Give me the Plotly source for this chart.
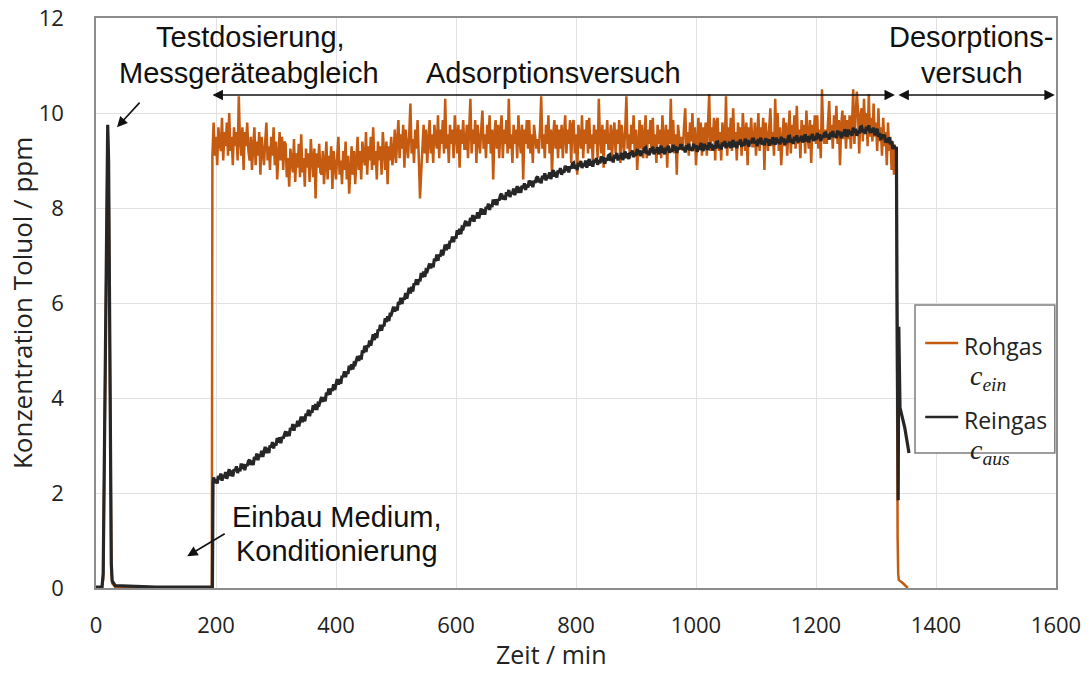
import plotly.graph_objects as go

# ---------------------------------------------------------------
# Rohgas c_ein (inlet concentration, ppm) over time (min)
# ---------------------------------------------------------------
# test dosing peak and conditioning phase
rohgas_start_t = [0, 10, 12, 14, 16, 18, 19.5, 21, 22.5, 24, 25.5, 27, 32, 100, 193, 194]
rohgas_start_c = [0, 0, 0.2, 2.8, 6.3, 9.0, 9.6, 8.8, 5.8, 2.3, 0.4, 0.1, 0.02, 0, 0, 9.1]

# adsorption run, logged every 2 min from 196 min (one row = 1 h)
rohgas_t0, rohgas_dt = 196, 2
rohgas_c = [
    9.8, 9.1, 9.5, 8.9, 9.7, 9.4, 9.2, 9.9, 9.0, 9.6, 9.3, 9.8, 9.1, 10.0, 9.2, 9.5, 8.9, 9.7, 9.3, 9.6, 9.0, 10.35, 9.4, 9.1, 9.7, 8.8, 9.6, 9.3, 9.8, 9.2,
    9.0, 9.5, 8.8, 9.3, 9.7, 8.9, 9.4, 9.1, 9.6, 8.7, 9.5, 9.2, 8.9, 9.4, 9.8, 9.0, 9.3, 8.8, 9.5, 9.1, 9.7, 8.9, 9.4, 8.6, 9.3, 9.6, 9.0, 9.5, 8.8, 9.4,
    9.35, 8.65, 9.05, 8.45, 9.25, 8.95, 8.75, 9.45, 8.55, 9.15, 8.85, 9.35, 8.65, 9.55, 8.75, 9.05, 8.45, 9.25, 8.85, 9.15, 8.55, 9.45, 8.95, 8.65, 9.25, 8.2, 9.15, 8.85, 9.35, 8.75,
    8.7, 9.2, 8.5, 9.0, 9.4, 8.6, 9.1, 8.8, 9.3, 8.4, 9.2, 8.9, 8.6, 9.1, 9.5, 8.7, 9.0, 8.5, 9.2, 8.8, 9.4, 8.6, 9.1, 8.3, 9.0, 9.3, 8.7, 9.2, 8.5, 9.1,
    9.5, 8.8, 9.2, 8.6, 9.4, 9.1, 8.9, 9.6, 8.7, 9.3, 9.0, 9.5, 8.8, 9.7, 8.9, 9.2, 8.6, 9.4, 9.0, 9.3, 8.7, 9.6, 9.1, 8.8, 9.4, 8.5, 9.3, 9.0, 9.5, 8.9,
    9.15, 9.65, 8.95, 9.45, 9.85, 9.05, 9.55, 9.25, 9.75, 8.85, 9.65, 9.35, 9.05, 9.55, 10.2, 9.15, 9.45, 8.95, 9.65, 9.25, 9.85, 9.05, 8.2, 8.75, 9.45, 9.75, 9.15, 9.65, 8.95, 9.55,
    9.85, 9.15, 9.55, 8.95, 9.75, 9.45, 9.25, 9.95, 9.05, 9.65, 9.35, 9.85, 9.15, 10.3, 9.25, 9.55, 8.95, 9.75, 9.35, 9.65, 9.05, 9.95, 9.45, 9.15, 9.75, 8.85, 9.65, 9.35, 9.85, 9.25,
    9.25, 9.75, 9.05, 9.55, 10.3, 9.15, 9.65, 9.35, 9.85, 8.95, 9.75, 9.45, 9.15, 9.65, 10.05, 9.25, 9.55, 9.05, 9.75, 9.35, 9.95, 9.15, 9.65, 8.6, 9.55, 9.85, 9.25, 9.75, 9.05, 9.65,
    9.95, 9.05, 9.65, 9.35, 9.85, 9.15, 10.3, 9.25, 9.55, 8.95, 9.75, 9.35, 9.65, 9.05, 9.95, 9.45, 9.15, 9.75, 8.6, 9.65, 9.35, 9.85, 9.25, 9.85, 9.15, 9.55, 8.95, 9.75, 9.45, 9.25,
    9.45, 9.15, 9.65, 10.35, 9.25, 9.55, 9.05, 9.75, 9.35, 9.95, 9.15, 9.65, 8.7, 9.55, 9.85, 9.25, 9.75, 9.05, 9.65, 9.25, 9.75, 9.05, 9.55, 9.95, 9.15, 9.65, 9.35, 9.85, 8.95, 9.75,
    9.85, 9.15, 9.55, 8.7, 9.75, 9.45, 9.25, 9.95, 9.05, 9.65, 9.35, 9.85, 9.15, 9.9, 9.25, 9.55, 8.95, 9.75, 9.35, 9.65, 9.05, 10.3, 9.45, 9.15, 9.75, 8.85, 9.65, 9.35, 9.85, 9.25,
    9.25, 9.75, 9.05, 9.55, 9.8, 9.15, 9.65, 9.35, 9.85, 8.95, 9.75, 9.45, 9.15, 9.65, 10.35, 9.25, 9.55, 9.05, 9.75, 9.35, 9.95, 9.15, 9.65, 8.8, 9.55, 9.85, 9.25, 9.75, 9.05, 9.65,
    9.95, 9.05, 9.65, 9.35, 9.85, 9.15, 9.9, 9.25, 9.55, 8.95, 9.75, 9.35, 9.65, 9.05, 9.95, 9.45, 9.15, 9.75, 8.85, 9.65, 9.35, 10.3, 9.25, 9.85, 9.15, 9.55, 8.7, 9.75, 9.45, 9.25,
    9.5, 9.2, 9.7, 10.1, 9.3, 9.6, 9.1, 9.8, 9.4, 10.0, 9.2, 9.7, 8.9, 9.6, 9.9, 9.3, 9.8, 9.1, 9.7, 9.3, 9.8, 9.1, 9.6, 10.4, 9.2, 9.7, 9.4, 9.9, 9.0, 9.8,
    9.9, 9.2, 9.6, 9.0, 9.8, 9.5, 9.3, 10.35, 9.1, 9.7, 9.4, 9.9, 9.2, 10.1, 9.3, 9.6, 9.0, 9.8, 9.4, 9.7, 9.1, 10.0, 9.5, 9.2, 9.8, 8.9, 9.7, 9.4, 9.9, 9.3,
    9.3, 9.8, 9.1, 9.6, 10.0, 9.2, 9.7, 9.4, 9.9, 8.8, 9.8, 9.5, 9.2, 9.7, 10.1, 9.3, 9.6, 9.1, 10.3, 9.4, 10.0, 9.2, 9.7, 8.9, 9.6, 9.9, 9.3, 9.8, 9.1, 9.7,
    10.05, 9.15, 9.75, 9.45, 9.95, 9.25, 10.15, 9.35, 9.65, 9.05, 9.85, 9.45, 9.75, 9.15, 10.05, 9.55, 9.25, 9.85, 8.95, 9.75, 9.45, 9.95, 9.35, 9.95, 9.25, 9.65, 9.05, 10.5, 9.55, 9.35,
    9.65, 9.35, 9.85, 10.25, 9.45, 9.75, 9.25, 9.95, 9.55, 10.15, 9.35, 9.85, 8.9, 9.75, 10.05, 9.45, 9.95, 9.25, 9.85, 9.45, 9.95, 9.25, 9.75, 10.5, 9.35, 9.85, 10.45, 10.05, 9.15, 9.95,
    10.1, 9.4, 10.3, 9.6, 10.0, 9.3, 10.4, 9.5, 9.9, 9.4, 10.2, 9.5, 9.8, 9.2, 10.1, 9.4, 9.7, 9.1, 9.9, 9.3, 9.6, 8.9, 9.8, 9.2, 9.5, 8.8, 9.4, 8.7, 9.3, 8.6,
]

# shut-off of the dosing
rohgas_end_t = [1335, 1336, 1337, 1338, 1345, 1353]
rohgas_end_c = [1.2, 1.1, 0.3, 0.17, 0.1, 0.0]

# ---------------------------------------------------------------
# Reingas c_aus (outlet concentration, ppm) over time (min)
# ---------------------------------------------------------------
reingas_start_t = [0, 10, 12, 14, 16, 18, 19.5, 21, 22.5, 24, 25.5, 27, 32, 100, 194, 195]
reingas_start_c = [0.02, 0.02, 0.3, 3.0, 6.6, 9.2, 9.75, 9.0, 6.0, 2.5, 0.5, 0.15, 0.05, 0.02, 0.02, 2.2]

# breakthrough curve, logged every 2 min from 196 min (one row = 1 h)
reingas_t0, reingas_dt = 196, 2
reingas_c = [
    2.33, 2.21, 2.29, 2.20, 2.36, 2.29, 2.41, 2.26, 2.38, 2.32, 2.44, 2.30, 2.40, 2.50, 2.36, 2.47, 2.35, 2.50, 2.46, 2.56, 2.42, 2.52, 2.46, 2.62, 2.51, 2.61, 2.48, 2.60, 2.57, 2.67,
    2.70, 2.59, 2.68, 2.59, 2.76, 2.70, 2.83, 2.69, 2.81, 2.76, 2.89, 2.76, 2.87, 2.97, 2.84, 2.95, 2.84, 3.00, 2.96, 3.07, 2.94, 3.05, 3.00, 3.16, 3.06, 3.17, 3.05, 3.18, 3.15, 3.26,
    3.30, 3.19, 3.29, 3.20, 3.37, 3.32, 3.45, 3.31, 3.44, 3.39, 3.52, 3.40, 3.51, 3.61, 3.49, 3.61, 3.51, 3.67, 3.63, 3.75, 3.62, 3.73, 3.69, 3.85, 3.75, 3.87, 3.75, 3.88, 3.86, 3.97,
    4.02, 3.92, 4.02, 3.93, 4.11, 4.06, 4.20, 4.07, 4.20, 4.15, 4.29, 4.17, 4.29, 4.40, 4.28, 4.40, 4.30, 4.47, 4.44, 4.56, 4.44, 4.55, 4.51, 4.68, 4.59, 4.71, 4.60, 4.73, 4.71, 4.83,
    4.88, 4.78, 4.89, 4.81, 5.00, 4.95, 5.10, 4.97, 5.11, 5.07, 5.21, 5.10, 5.22, 5.34, 5.22, 5.36, 5.26, 5.44, 5.41, 5.54, 5.42, 5.54, 5.51, 5.68, 5.60, 5.72, 5.62, 5.76, 5.75, 5.87,
    5.92, 5.82, 5.92, 5.84, 6.02, 5.97, 6.11, 5.98, 6.11, 6.07, 6.21, 6.09, 6.21, 6.32, 6.20, 6.34, 6.24, 6.41, 6.38, 6.50, 6.38, 6.50, 6.46, 6.63, 6.54, 6.66, 6.55, 6.69, 6.67, 6.79,
    6.83, 6.73, 6.83, 6.75, 6.93, 6.88, 7.02, 6.89, 7.02, 6.98, 7.12, 7.00, 7.12, 7.23, 7.11, 7.24, 7.14, 7.31, 7.28, 7.40, 7.28, 7.40, 7.36, 7.53, 7.44, 7.56, 7.45, 7.59, 7.57, 7.69,
    7.73, 7.62, 7.71, 7.62, 7.79, 7.73, 7.85, 7.71, 7.83, 7.78, 7.91, 7.78, 7.89, 7.99, 7.86, 7.97, 7.86, 8.02, 7.98, 8.09, 7.96, 8.07, 8.02, 8.18, 8.07, 8.18, 8.06, 8.19, 8.16, 8.27,
    8.30, 8.18, 8.26, 8.17, 8.33, 8.26, 8.38, 8.23, 8.34, 8.29, 8.41, 8.27, 8.37, 8.46, 8.32, 8.44, 8.32, 8.47, 8.42, 8.52, 8.38, 8.49, 8.43, 8.58, 8.47, 8.57, 8.44, 8.57, 8.53, 8.63,
    8.66, 8.54, 8.62, 8.52, 8.68, 8.61, 8.73, 8.58, 8.69, 8.63, 8.75, 8.61, 8.71, 8.80, 8.66, 8.76, 8.64, 8.79, 8.74, 8.84, 8.70, 8.80, 8.74, 8.89, 8.78, 8.88, 8.75, 8.87, 8.83, 8.93,
    8.95, 8.83, 8.90, 8.80, 8.95, 8.88, 8.99, 8.84, 8.94, 8.88, 9.00, 8.85, 8.95, 9.03, 8.89, 8.99, 8.87, 9.01, 8.96, 9.05, 8.91, 9.01, 8.94, 9.09, 8.97, 9.07, 8.93, 9.05, 9.00, 9.10,
    9.12, 8.99, 9.07, 8.96, 9.12, 9.04, 9.16, 9.00, 9.11, 9.04, 9.16, 9.01, 9.11, 9.19, 9.05, 9.15, 9.03, 9.17, 9.12, 9.21, 9.07, 9.16, 9.10, 9.24, 9.13, 9.22, 9.09, 9.20, 9.16, 9.25,
    9.27, 9.14, 9.21, 9.11, 9.26, 9.18, 9.29, 9.13, 9.24, 9.17, 9.28, 9.13, 9.22, 9.31, 9.16, 9.26, 9.13, 9.27, 9.22, 9.31, 9.16, 9.25, 9.18, 9.33, 9.21, 9.30, 9.16, 9.27, 9.23, 9.32,
    9.32, 9.23, 9.28, 9.17, 9.32, 9.23, 9.35, 9.21, 9.28, 9.20, 9.35, 9.26, 9.32, 9.18, 9.31, 9.22, 9.37, 9.29, 9.20, 9.35, 9.24, 9.32, 9.22, 9.38, 9.27, 9.35, 9.21, 9.32, 9.25, 9.38,
    9.39, 9.26, 9.33, 9.23, 9.38, 9.30, 9.41, 9.26, 9.36, 9.29, 9.40, 9.26, 9.35, 9.43, 9.28, 9.39, 9.26, 9.40, 9.34, 9.44, 9.29, 9.38, 9.31, 9.46, 9.34, 9.43, 9.29, 9.41, 9.36, 9.45,
    9.45, 9.36, 9.41, 9.30, 9.45, 9.36, 9.48, 9.34, 9.41, 9.32, 9.47, 9.39, 9.45, 9.31, 9.44, 9.34, 9.49, 9.41, 9.33, 9.48, 9.37, 9.44, 9.34, 9.50, 9.39, 9.47, 9.33, 9.44, 9.37, 9.50,
    9.51, 9.38, 9.45, 9.35, 9.50, 9.42, 9.53, 9.38, 9.48, 9.41, 9.52, 9.38, 9.47, 9.55, 9.40, 9.51, 9.38, 9.52, 9.46, 9.56, 9.41, 9.50, 9.43, 9.58, 9.46, 9.55, 9.41, 9.53, 9.48, 9.57,
    9.58, 9.49, 9.55, 9.44, 9.59, 9.50, 9.62, 9.49, 9.56, 9.47, 9.63, 9.54, 9.61, 9.47, 9.60, 9.51, 9.66, 9.58, 9.50, 9.65, 9.55, 9.62, 9.52, 9.69, 9.58, 9.67, 9.52, 9.63, 9.57, 9.70,
    9.71, 9.59, 9.66, 9.56, 9.71, 9.63, 9.74, 9.58, 9.67, 9.59, 9.69, 9.53, 9.61, 9.67, 9.50, 9.58, 9.43, 9.55, 9.47, 9.55, 9.38, 9.46, 9.37, 9.49, 9.34, 9.41, 9.24, 9.33, 9.24, 9.29,
]

# desorption after the dosing is switched off
reingas_end_t = [1335, 1337, 1338, 1340, 1348, 1355]
reingas_end_c = [6.3, 1.85, 5.5, 3.8, 3.37, 2.84]

# axis ticks
x_ticks = [0, 200, 400, 600, 800, 1000, 1200, 1400, 1600]
y_ticks = [0, 2, 4, 6, 8, 10, 12]

ORANGE = "#C55A11"
DARK = "#262626"
TXT_FONT = "Liberation Sans, Arial, sans-serif"
AX_FONT = "Open Sans, sans-serif"


def full_series(t_start, c_start, t0, dt, c_mid, t_end, c_end):
    t_mid = [t0 + dt * i for i in range(len(c_mid))]
    return t_start + t_mid + t_end, c_start + c_mid + c_end


t_roh, c_roh = full_series(rohgas_start_t, rohgas_start_c, rohgas_t0, rohgas_dt,
                           rohgas_c, rohgas_end_t, rohgas_end_c)
t_rein, c_rein = full_series(reingas_start_t, reingas_start_c, reingas_t0, reingas_dt,
                             reingas_c, reingas_end_t, reingas_end_c)

fig = go.Figure()
fig.add_trace(go.Scatter(x=t_roh, y=c_roh, mode="lines", name="Rohgas",
                         line=dict(color=ORANGE, width=2.5), showlegend=False))
fig.add_trace(go.Scatter(x=t_rein, y=c_rein, mode="lines", name="Reingas",
                         line=dict(color=DARK, width=3.2), showlegend=False))

axis_common = dict(
    showgrid=True, gridcolor="#e2e2e2", gridwidth=1,
    zeroline=False, showline=True, mirror=True, automargin=False,
    linecolor="#8c8c8c", linewidth=1.5,
    ticks="", tickfont=dict(family=AX_FONT, size=22, color="#222"),
)
fig.update_xaxes(range=[0, 1600], tickvals=x_ticks, ticklabelstandoff=17, **axis_common)
fig.update_yaxes(range=[0, 12], tickvals=y_ticks, ticklabelstandoff=26, **axis_common)

annotations = []

# phase labels
def label(x, y, text, size=29):
    annotations.append(dict(x=x, y=y, xref="x", yref="y", text=text, showarrow=False,
                            xanchor="center", yanchor="middle",
                            font=dict(family=TXT_FONT, size=size, color="#111")))

label(258, 11.6, "Testdosierung,")
label(255, 10.84, "Messgeräteabgleich")
label(762, 10.84, "Adsorptionsversuch")
label(1458, 11.6, "Desorptions-")
label(1460, 10.84, "versuch")
label(402, 1.49, "Einbau Medium,")
label(402, 0.78, "Konditionierung")

# pointer arrows
def arrow(x, y, ax, ay, both=False):
    annotations.append(dict(x=x, y=y, ax=ax, ay=ay, xref="x", yref="y", axref="x", ayref="y",
                            text="", showarrow=True, arrowhead=2, arrowsize=1.3,
                            arrowwidth=1.6, arrowcolor="#111",
                            arrowside="end+start" if both else "end"))

arrow(35, 9.7, 75, 10.25)
arrow(152, 0.67, 217, 1.16)
arrow(1331.5, 10.38, 191.7, 10.38, both=True)
arrow(1598, 10.38, 1335, 10.38, both=True)

# axis titles
annotations.append(dict(x=-0.077, y=0.5, xref="paper", yref="paper", text="Konzentration Toluol / ppm",
                        textangle=-90, showarrow=False, xanchor="center", yanchor="middle",
                        font=dict(family=AX_FONT, size=26, color="#222")))
annotations.append(dict(x=0.474, y=-0.149, xref="paper", yref="paper", text="Zeit / min",
                        showarrow=False, xanchor="center", yanchor="bottom",
                        font=dict(family=AX_FONT, size=25, color="#222")))

# legend box content: name on the first line, symbol below
MATH_SPAN = "<span style='font-family:Liberation Serif, DejaVu Serif, serif;font-size:28px'>"
LEG_FONT = dict(family=AX_FONT, size=23, color="#222")
annotations.append(dict(x=1443, y=5.47, xref="x", yref="y", showarrow=False,
                        text="Rohgas<br>&nbsp;" + MATH_SPAN + "<i>c</i><sub><i>ein</i></sub></span>",
                        xanchor="left", yanchor="top", align="left", font=LEG_FONT))
annotations.append(dict(x=1443, y=3.92, xref="x", yref="y", showarrow=False,
                        text="Reingas<br>&nbsp;" + MATH_SPAN + "<i>c</i><sub><i>aus</i></sub></span>",
                        xanchor="left", yanchor="top", align="left", font=LEG_FONT))

shapes = [
    dict(type="rect", xref="x", yref="y", x0=1365, x1=1598, y0=2.84, y1=5.96,
         line=dict(color="#7f7f7f", width=1.5), fillcolor="white", layer="above"),
    dict(type="line", xref="x", yref="y", x0=1382, x1=1437, y0=5.16, y1=5.16,
         line=dict(color=ORANGE, width=2.5), layer="above"),
    dict(type="line", xref="x", yref="y", x0=1382, x1=1437, y0=3.6, y1=3.6,
         line=dict(color=DARK, width=2.5), layer="above"),
]

fig.update_layout(
    width=1091, height=674,
    margin=dict(l=96, r=35, t=18, b=86, autoexpand=False),
    paper_bgcolor="white", plot_bgcolor="white",
    annotations=annotations, shapes=shapes,
    showlegend=False,
)

fig.write_html("out.html")
